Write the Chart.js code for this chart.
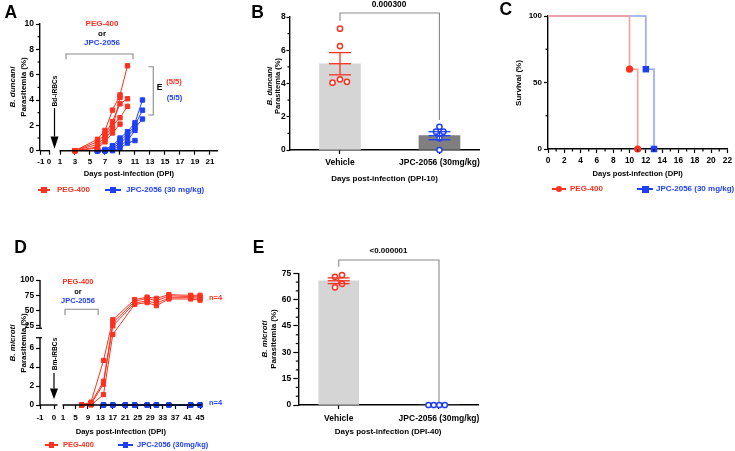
<!DOCTYPE html>
<html><head><meta charset="utf-8">
<script src="https://cdn.jsdelivr.net/npm/chart.js@4.4.1/dist/chart.umd.min.js"></script>
<style>
html,body{margin:0;padding:0;background:#fff;}
body{width:735px;height:451px;overflow:hidden;position:relative;font-family:"Liberation Sans",Arial,sans-serif;}
canvas{position:absolute;}
.t{position:absolute;white-space:nowrap;font-weight:bold;line-height:1;}
</style></head><body>
<script>
// ================= DATA =================
// Panel A : B. duncani parasitemia (%) per mouse
const daysA_peg = [3, 6, 7, 8, 9, 10];
const pegA = [
  [0, 0.9, 1.6, 3.2, 4.4, 6.7],
  [0, 0.7, 1.3, 2.3, 3.7, 4.1],
  [0, 0.5, 1.1, 2.0, 2.6, 3.5],
  [0, 0.3, 0.9, 1.7, 4.2, null],
  [0, 0.2, 0.7, 1.4, 2.1, null]
];
const daysA_jpc = [6, 7, 8, 9, 10, 11, 12];
const jpcA = [
  [0, 0.1, 0.4, 1.0, 1.5, 2.2, 4.0],
  [0, 0.0, 0.3, 0.8, 1.3, 2.0, 3.2],
  [0, 0.0, 0.2, 0.6, 1.1, 1.8, 2.5],
  [0, 0.0, 0.1, 0.4, 0.8, 1.6, null],
  [0, 0.0, 0.0, 0.2, 0.6, 0.8, null]
];
const ticksAx = [-1, 0, 1, 3, 5, 7, 9, 11, 13, 15, 17, 19, 21];
const ticksAy = [0, 2, 4, 6, 8, 10];

// Panel B : DPI-10
const groupsB = ['Vehicle', 'JPC-2056 (30mg/kg)'];
const vehB = [7.3, 6.25, 4.05, 4.25, 4.1];
const jpcB = [1.4, 1.1, 1.1, 0.7, 0.0];
const pValueB = '0.000300';
const ticksBy = [0, 2, 4, 6, 8];

// Panel C : survival
const survDaysPeg = [0, 10, 11];
const survPeg = [100, 60, 0];
const survDaysJpc = [0, 12, 13];
const survJpc = [100, 60, 0];
const ticksCx = [0, 2, 4, 6, 8, 10, 12, 14, 16, 18, 20, 22];
const ticksCy = [0, 50, 100];

// Panel D : B. microti parasitemia (%) per mouse
const daysD_peg = [7, 10, 14, 17, 24, 28, 31, 35, 42, 45];
const pegD = [
  [0, 0.3, 4.7, 35, 68, 72, 70, 76, 75, 75],
  [0, 0.2, 2.5, 30, 65, 70, 66, 74, 73, 72],
  [0, 0.1, 2.2, 25, 62, 66, 62, 71, 71, 70],
  [0, 0.0, 1.1, 12, 60, 63, 58, 69, 69, 67]
];
const daysD_jpc = [14, 17, 21, 24, 28, 31, 35, 42, 45];
const jpcD = [
  [0, 0, 0, 0, 0, 0, 0, 0, 0],
  [0, 0, 0, 0, 0, 0, 0, 0, 0],
  [0, 0, 0, 0, 0, 0, 0, 0, 0],
  [0, 0, 0, 0, 0, 0, 0, 0, 0]
];
const ticksDx = [-1, 0, 1, 5, 9, 13, 17, 21, 25, 29, 33, 37, 41, 45];
const ticksDy = [0, 2, 4, 6, 25, 50, 75, 100];

// Panel E : DPI-40
const groupsE = ['Vehicle', 'JPC-2056 (30mg/kg)'];
const vehE = [73, 74, 67, 69];
const jpcE = [0, 0, 0, 0];
const pValueE = '<0.000001';
const ticksEy = [0, 15, 30, 45, 60, 75];

// ================= STYLE / LAYOUT =================
const RED = '#fb3220', BLUE = '#1f3ff5';
const FONT = "'Liberation Sans', Arial, sans-serif";
const jitterB = [[0, 0, -0.075, 0, 0.07], [0, -0.035, 0.04, 0, 0]];
const jitterE = [[-0.037, 0.033, -0.037, 0.033], [-0.105, -0.052, 0.003, 0.058]];

// ---------- piecewise (broken) linear scale ----------
const LS = Chart.LinearScale || Chart.registry.getScale('linear');
const PW = {};
class PWScale extends LS {
  _m() { return PW[this.chart.canvas.id + ':' + this.id]; }
  _fr(v) { const m = this._m(), vs = m.v, fs = m.f; let i = 1; while (i < vs.length - 1 && v > vs[i]) i++; return fs[i-1] + (v - vs[i-1]) * (fs[i] - fs[i-1]) / (vs[i] - vs[i-1]); }
  getPixelForValue(v) { if (v === null || v === undefined || Number.isNaN(+v)) return NaN; return this.getPixelForDecimal(this._fr(+v)); }
  getValueForPixel(p) { const m = this._m(), vs = m.v, fs = m.f, d = this.getDecimalForPixel(p); let i = 1; while (i < fs.length - 1 && d > fs[i]) i++; return vs[i-1] + (d - fs[i-1]) * (vs[i] - vs[i-1]) / (fs[i] - fs[i-1]); }
}
PWScale.id = 'pw';
PWScale.defaults = LS.defaults;
Chart.register(PWScale);
function pwX(vals, pxs, l, r) { return {v: vals, f: pxs.map(p => (p - l) / (r - l))}; }
function pwY(vals, pxs, t, b) { return {v: vals, f: pxs.map(p => (b - p) / (b - t))}; }

// ---------- helpers ----------
function T(txt, x, y, o = {}) {
  const d = document.createElement('div'); d.className = 't'; d.textContent = txt;
  const fs = o.size || 8; d.style.fontSize = fs + 'px'; d.style.color = o.color || '#000';
  if (o.italic) d.style.fontStyle = 'italic';
  if (o.normal) d.style.fontWeight = 'normal';
  if (o.rot) {
    d.style.left = x + 'px'; d.style.top = y + 'px';
    d.style.transform = 'translate(-50%,-50%) rotate(-90deg)';
  } else {
    d.style.top = (y - 0.49 * fs) + 'px';
    const a = o.align || 'center';
    if (a === 'left') d.style.left = x + 'px';
    else if (a === 'right') d.style.right = (735 - x) + 'px';
    else { d.style.left = x + 'px'; d.style.transform = 'translateX(-50%)'; }
  }
  document.body.appendChild(d); return d;
}
function box(x, y, w, h, bg, round) {
  const d = document.createElement('div');
  d.style.cssText = `position:absolute;left:${x}px;top:${y}px;width:${w}px;height:${h}px;background:${bg};border-radius:${round ? '50%' : '0'}`;
  document.body.appendChild(d);
}
function legendItem(x1, x2, y, color, shape, size, text, tx, fs) {
  box(x1, y - 0.75, x2 - x1, 1.5, color, false);
  box((x1 + x2) / 2 - size / 2, y - size / 2, size, size, color, shape === 'circle');
  T(text, tx, y, {align: 'left', color: color, size: fs});
}
function tickFont(s) { return {family: FONT, weight: 'bold', size: s}; }
function axis(extra) {
  const a = {
    offset: false,
    border: {display: true, color: '#000', width: 1.4},
    grid: {display: true, offset: false, drawOnChartArea: false, drawTicks: true, tickLength: 4, tickColor: '#000', tickWidth: 1.2},
    ticks: {color: '#000', font: tickFont(8.5), padding: 2, autoSkip: false, maxRotation: 0, minRotation: 0, callback: v => String(v)}
  };
  for (const k in extra) {
    if (typeof extra[k] === 'object' && !Array.isArray(extra[k]) && a[k]) Object.assign(a[k], extra[k]);
    else a[k] = extra[k];
  }
  return a;
}
function fixTicks(list) { return s => { s.ticks = list.map(v => ({value: v})); }; }
function xTitle(text, size, pb) { return {display: true, text: text, color: '#000', font: {family: FONT, weight: 'bold', size: size}, padding: {top: 0, bottom: pb}}; }
function stroke(ctx, pts, color, w) {
  ctx.save(); ctx.strokeStyle = color; ctx.lineWidth = w; ctx.beginPath();
  pts.forEach((p, i) => i ? ctx.lineTo(p[0], p[1]) : ctx.moveTo(p[0], p[1])); ctx.stroke(); ctx.restore();
}
function minorY(ch, vals, len) { const s = ch.scales.y, L = ch.chartArea.left; vals.forEach(v => { const y = s.getPixelForValue(v); stroke(ch.ctx, [[L - len, y], [L, y]], '#000', 1.2); }); }
function minorX(ch, vals, len) { const s = ch.scales.x, B = ch.chartArea.bottom; vals.forEach(v => { const x = s.getPixelForValue(v); stroke(ch.ctx, [[x, B], [x, B + len]], '#000', 1.2); }); }
function mean(a) { return a.reduce((s, v) => s + v, 0) / a.length; }
function sem(a) { const m = mean(a); return Math.sqrt(a.reduce((s, v) => s + (v - m) * (v - m), 0) / (a.length - 1)) / Math.sqrt(a.length); }
function errBar(ch, xv, vals, color, hw) {
  const xs = ch.scales.x, ys = ch.scales.y, X = xs.getPixelForValue(xv);
  const m = mean(vals), se = sem(vals);
  const yM = ys.getPixelForValue(m), yH = ys.getPixelForValue(m + se), yL = ys.getPixelForValue(m - se);
  stroke(ch.ctx, [[X, yH], [X, yL]], color, 1.3);
  [yM, yH, yL].forEach(y => stroke(ch.ctx, [[X - hw, y], [X + hw, y]], color, 1.3));
}
function bracket(ch, x0, x1, yT, yL, yR) {
  const xs = ch.scales.x, ys = ch.scales.y;
  const X0 = xs.getPixelForValue(x0), X1 = xs.getPixelForValue(x1);
  stroke(ch.ctx, [[X0, ys.getPixelForValue(yL)], [X0, ys.getPixelForValue(yT)], [X1, ys.getPixelForValue(yT)], [X1, ys.getPixelForValue(yR)]], '#8a8a8a', 1.1);
}
function arrow(ch, xv, yTop, yBase, yTip) {
  const xs = ch.scales.x, ys = ch.scales.y, X = xs.getPixelForValue(xv), ctx = ch.ctx;
  stroke(ctx, [[X, ys.getPixelForValue(yTop)], [X, ys.getPixelForValue(yBase)]], '#000', 1.2);
  const yb = ys.getPixelForValue(yBase), yt = ys.getPixelForValue(yTip);
  ctx.save(); ctx.fillStyle = '#000'; ctx.beginPath(); ctx.moveTo(X - 4, yb); ctx.lineTo(X + 4, yb); ctx.lineTo(X, yt); ctx.closePath(); ctx.fill(); ctx.restore();
}
function makeChart(id, bx, area, cfg) {
  const c = document.createElement('canvas'); c.id = id; c.width = bx.w; c.height = bx.h;
  Object.assign(c.style, {left: bx.x + 'px', top: bx.y + 'px', width: bx.w + 'px', height: bx.h + 'px'});
  document.body.appendChild(c);
  const yw = area.l - bx.x, xh = bx.y + bx.h - area.b;
  cfg.options.layout = {padding: {top: area.t - bx.y, right: bx.x + bx.w - area.r, left: 0, bottom: 0}};
  cfg.options.scales.x.afterFit = s => { s.height = xh; };
  cfg.options.scales.y.afterFit = s => { s.width = yw; };
  cfg.options.responsive = false; cfg.options.animation = false;
  cfg.options.plugins = Object.assign({legend: {display: false}, tooltip: {enabled: false}}, cfg.options.plugins || {});
  return new Chart(c, cfg);
}
function lineSet(days, vals, color, r) {
  return {type: 'line', data: days.map((d, i) => ({x: d, y: vals[i]})).filter(p => p.y !== null),
    borderColor: color, backgroundColor: color, borderWidth: 1, pointStyle: 'rect', pointRadius: r,
    pointBorderWidth: 1, pointBorderColor: color, pointBackgroundColor: color, clip: false, tension: 0};
}
function dotSet(vals, xc, jit, color) {
  return {type: 'scatter', order: 1, data: vals.map((v, i) => ({x: xc + jit[i], y: v})), pointStyle: 'circle', pointRadius: 2.6,
    pointBorderWidth: 1.5, borderColor: color, pointBorderColor: color, pointBackgroundColor: '#fff', backgroundColor: '#fff', clip: false};
}

// ================= PANEL A =================
const aA = {l: 40, t: 24, r: 218, b: 150.7};
PW['cA:x'] = pwX([-1.1, 0, 1, 22.07], [40, 49, 60, 218], aA.l, aA.r);
makeChart('cA', {x: 0, y: 0, w: 232, h: 200}, aA, {
  type: 'line',
  data: {datasets: [...pegA.map(s => lineSet(daysA_peg, s, RED, 3.1)), ...jpcA.map(s => lineSet(daysA_jpc, s, BLUE, 3.1))]},
  options: {scales: {
    x: axis({type: 'pw', min: -1.1, max: 22.07, border: {display: false}, afterBuildTicks: fixTicks(ticksAx), ticks: {padding: 2.5, font: tickFont(8)}, title: xTitle('Days post-infection (DPI)', 7.6, 21.2)}),
    y: axis({type: 'linear', min: 0, max: 10, afterBuildTicks: fixTicks(ticksAy)})
  }},
  plugins: [{id: 'decoA', afterDraw(ch) {
    const xs = ch.scales.x, B = ch.chartArea.bottom, ctx = ch.ctx;
    stroke(ctx, [[ch.chartArea.left, B], [xs.getPixelForValue(0) + 1, B]], '#000', 1.4);
    stroke(ctx, [[xs.getPixelForValue(1) - 0.5, B], [ch.chartArea.right, B]], '#000', 1.4);
    minorY(ch, [1, 3, 5, 7, 9], 2.5);
    bracket(ch, 1.8, 10.73, 7.63, 7.21, 7.21);
    const X1 = xs.getPixelForValue(13.44), X0 = xs.getPixelForValue(12.77), ys = ch.scales.y;
    stroke(ctx, [[X0, ys.getPixelForValue(6.63)], [X1, ys.getPixelForValue(6.63)], [X1, ys.getPixelForValue(2.82)], [X0, ys.getPixelForValue(2.82)]], '#8a8a8a', 1.1);
    arrow(ch, 0.5, 3.37, 1.12, 0.15);
  }}]
});
T('A', 10.8, 12.7, {size: 17.5});
T('B. duncani', 13, 87, {rot: true, italic: true, size: 8});
T('Parasitemia (%)', 23.5, 87, {rot: true, size: 8});
T('Bd-iRBCs', 54.5, 91, {rot: true, size: 6.6, normal: false});
T('PEG-400', 102, 23.7, {color: RED, size: 8});
T('or', 102, 34, {size: 8});
T('JPC-2056', 102, 43, {color: BLUE, size: 8});
T('E', 159.5, 86.7, {size: 8.5});
T('(5/5)', 174, 81.7, {color: RED, size: 7.6});
T('(5/5)', 174.5, 97.3, {color: BLUE, size: 7.6});
legendItem(38, 50, 190, RED, 'rect', 6, 'PEG-400', 57, 8);
legendItem(105, 121, 190, BLUE, 'rect', 6, 'JPC-2056 (30 mg/kg)', 126, 8);

// ================= PANEL B =================
const aB = {l: 290, t: 17, r: 480, b: 150};
makeChart('cB', {x: 240, y: 0, w: 245, h: 200}, aB, {
  type: 'scatter',
  data: {datasets: [
    dotSet(vehB, 0, jitterB[0], RED),
    dotSet(jpcB, 1, jitterB[1], BLUE),
    {type: 'bar', order: 2, data: [{x: 0, y: mean(vehB)}, {x: 1, y: mean(jpcB)}], backgroundColor: ['#d5d5d5', '#7f7f7f'], borderWidth: 0, barThickness: 41, grouped: false}
  ]},
  options: {scales: {
    x: axis({type: 'linear', min: -0.5025, max: 1.398, afterBuildTicks: fixTicks([0, 1]), ticks: {padding: 4, callback: v => groupsB[v]}, title: xTitle('Days post-infection (DPI-10)', 8, 16.9)}),
    y: axis({type: 'linear', min: 0, max: 8, afterBuildTicks: fixTicks(ticksBy), grid: {tickLength: 3.5}, ticks: {padding: 0.8}})
  }},
  plugins: [{id: 'decoB', afterDatasetsDraw(ch) {
    errBar(ch, 0, vehB, RED, 11); errBar(ch, 1, jpcB, BLUE, 11);
    minorY(ch, [1, 3, 5, 7], 2.5);
    bracket(ch, 0, 1, 8.24, 7.76, 1.8);
  }}]
});
T('B', 257.5, 12.2, {size: 17.5});
T('B. duncani', 269.8, 86, {rot: true, italic: true, size: 7.5});
T('Parasitemia (%)', 277.6, 86, {rot: true, size: 7.5});
T(pValueB, 389, 4.2, {size: 8.3});

// ================= PANEL C =================
const aC = {l: 548, t: 16, r: 729, b: 149};
makeChart('cC', {x: 485, y: 0, w: 250, h: 200}, aC, {
  type: 'line',
  data: {datasets: [
    {data: survDaysPeg.map((d, i) => ({x: d, y: survPeg[i]})), stepped: 'before', borderColor: '#ff9a92', borderWidth: 1.5,
     pointStyle: 'circle', pointRadius: [0, 3.6, 3.6], pointBackgroundColor: RED, pointBorderColor: RED, pointBorderWidth: 0, clip: false},
    {data: survDaysJpc.map((d, i) => ({x: d, y: survJpc[i]})), stepped: 'before', borderColor: '#8ea2ff', borderWidth: 1.5,
     pointStyle: 'rect', pointRadius: [0, 4.6, 4.6], pointBackgroundColor: BLUE, pointBorderColor: BLUE, pointBorderWidth: 0, clip: false}
  ]},
  options: {scales: {
    x: axis({type: 'linear', min: 0, max: 22, afterBuildTicks: fixTicks(ticksCx), ticks: {padding: 3, font: tickFont(8.3)}, title: xTitle('Days post-infection (DPI)', 7.6, 21.2)}),
    y: axis({type: 'linear', min: 0, max: 100, afterBuildTicks: fixTicks(ticksCy), ticks: {font: tickFont(8)}})
  }},
  plugins: [{id: 'decoC', afterDraw(ch) {
    minorY(ch, [25, 75], 2.5);
    minorX(ch, [1, 3, 5, 7, 9, 11, 13, 15, 17, 19, 21], 2.5);
  }}]
});
T('C', 505.8, 9.2, {size: 17.5});
T('Survival (%)', 519, 82.5, {rot: true, size: 8});
legendItem(552, 566, 189, RED, 'circle', 6.5, 'PEG-400', 570, 8);
legendItem(637, 653, 189, BLUE, 'rect', 7, 'JPC-2056 (30 mg/kg)', 656, 8);

// ================= PANEL D =================
const aD = {l: 40, t: 280, r: 201.6, b: 405};
PW['cD:x'] = pwX([-1, 0, 1, 45.5], [40, 54, 63, 201.6], aD.l, aD.r);
PW['cD:y'] = pwY([0, 7.1, 21, 100], [405, 337.7, 328.3, 280], aD.t, aD.b);
makeChart('cD', {x: 0, y: 210, w: 245, h: 240}, aD, {
  type: 'line',
  data: {datasets: [...pegD.map(s => lineSet(daysD_peg, s, RED, 3)), ...jpcD.map(s => lineSet(daysD_jpc, s, BLUE, 3))]},
  options: {scales: {
    x: axis({type: 'pw', min: -1, max: 45.5, border: {display: false}, afterBuildTicks: fixTicks(ticksDx), ticks: {padding: 4, font: tickFont(8)}, title: xTitle('Days post-infection (DPI)', 7.6, 13.8)}),
    y: axis({type: 'pw', min: 0, max: 100, border: {display: false}, afterBuildTicks: fixTicks(ticksDy), ticks: {font: tickFont(8.3)}})
  }},
  plugins: [{id: 'decoD', afterDraw(ch) {
    const xs = ch.scales.x, ys = ch.scales.y, A = ch.chartArea, ctx = ch.ctx;
    stroke(ctx, [[A.left, A.bottom], [xs.getPixelForValue(0) + 3.5, A.bottom]], '#000', 1.4);
    stroke(ctx, [[xs.getPixelForValue(1) - 0.5, A.bottom], [A.right, A.bottom]], '#000', 1.4);
    const yLowTop = ys.getPixelForValue(7.1), yUpBot = ys.getPixelForValue(21);
    stroke(ctx, [[A.left, A.bottom + 0.7], [A.left, yLowTop]], '#000', 1.4);
    stroke(ctx, [[A.left, yUpBot], [A.left, A.top]], '#000', 1.4);
    stroke(ctx, [[A.left - 4, yLowTop], [A.left + 2, yLowTop]], '#000', 1.2);
    stroke(ctx, [[A.left - 4, yUpBot], [A.left + 2, yUpBot]], '#000', 1.2);
    bracket(ch, 1.64, 12.28, 52.1, 42.8, 42.8);
    arrow(ch, 0, 3.38, 1.75, 0.6);
  }}]
});
T('D', 20.5, 247.2, {size: 17.5});
T('B. microti', 13, 343, {rot: true, italic: true, size: 8});
T('Parasitemia (%)', 23.5, 343, {rot: true, size: 8});
T('Bm-iRBCs', 54.5, 354, {rot: true, size: 6.6});
T('PEG-400', 78, 281.5, {color: RED, size: 7.5});
T('or', 78, 292, {size: 7.5});
T('JPC-2056', 78, 300.5, {color: BLUE, size: 7.5});
T('n=4', 209, 298, {align: 'left', color: RED, size: 7.5});
T('n=4', 209, 402.5, {align: 'left', color: BLUE, size: 7.5});
legendItem(45, 58, 445, RED, 'rect', 5.5, 'PEG-400', 63, 7.5);
legendItem(118, 133, 445, BLUE, 'rect', 5.5, 'JPC-2056 (30mg/kg)', 137, 7.5);

// ================= PANEL E =================
const aE = {l: 298.3, t: 273.3, r: 478, b: 405};
makeChart('cE', {x: 250, y: 210, w: 240, h: 240}, aE, {
  type: 'scatter',
  data: {datasets: [
    dotSet(vehE, 0, jitterE[0], RED),
    dotSet(jpcE, 1, jitterE[1], BLUE),
    {type: 'bar', order: 2, data: [{x: 0, y: mean(vehE)}, {x: 1, y: mean(jpcE)}], backgroundColor: ['#d5d5d5', '#7f7f7f'], borderWidth: 0, barThickness: 40, grouped: false}
  ]},
  options: {scales: {
    x: axis({type: 'linear', min: -0.403, max: 1.389, afterBuildTicks: fixTicks([0, 1]), ticks: {padding: 4.2, callback: v => groupsE[v]}, title: xTitle('Days post-infection (DPI-40)', 8, 13.5)}),
    y: axis({type: 'linear', min: 0, max: 75, afterBuildTicks: fixTicks(ticksEy), grid: {tickLength: 5}})
  }},
  plugins: [{id: 'decoE', afterDatasetsDraw(ch) {
    errBar(ch, 0, vehE, RED, 11);
    minorY(ch, [5, 10, 20, 25, 35, 40, 50, 55, 65, 70], 2.5);
    bracket(ch, 0, 1, 82.6, 78.8, 1.7);
  }}]
});
T('E', 258.7, 247.2, {size: 17.5});
T('B. microti', 265, 339, {rot: true, italic: true, size: 8});
T('Parasitemia (%)', 273.5, 339, {rot: true, size: 8});
T(pValueE, 388.5, 250.5, {size: 8});
</script>
</body></html>
